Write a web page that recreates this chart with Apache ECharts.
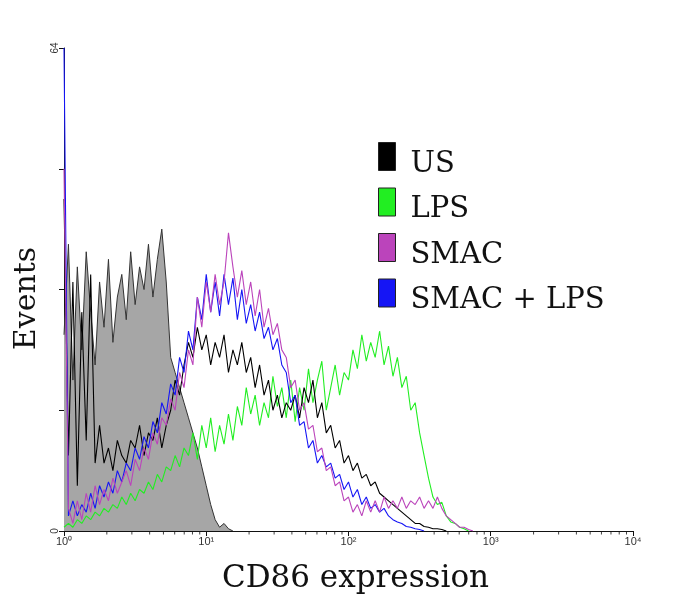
<!DOCTYPE html>
<html>
<head>
<meta charset="utf-8">
<script src="https://cdn.jsdelivr.net/npm/echarts@6/dist/echarts.min.js"></script>
<style>
  html, body { margin: 0; padding: 0; background: #fff; }
  #chart { width: 678px; height: 602px; }
</style>
</head>
<body>
<div id="chart"></div>
<script>
// histogram counts per channel, 32 channels per decade, channel 0 = 10^0
var controlCounts = [26, 38, 20, 35, 24, 37, 29, 22, 33, 27, 36, 25, 31, 34, 28, 37, 30, 35, 32, 38,
    31, 36, 40, 33, 23, 21, 19, 17, 15, 13, 11, 8.5, 6, 3.5, 1.5, 0.5, 1, 0.3, 0]
var usCounts = [44, 10, 33, 6, 29, 12, 34, 9, 14, 9, 11, 8, 12, 10, 9, 12, 11, 14, 10, 13,
    12, 15, 11, 14, 16, 20, 18, 22, 25, 23, 27, 24, 26, 22, 25, 23, 26, 21, 24, 22,
    25, 21, 23, 19, 22, 18, 20, 16, 18, 15, 17, 16, 18, 15, 19, 17, 20, 15, 17, 13,
    14, 11, 12, 9, 10, 8, 9, 7, 7.5, 6, 6.5, 5, 4.5, 4, 3.5, 3, 2.5, 2, 1.5, 1,
    1, 0.6, 0.5, 0.3, 0.3, 0.2, 0]
var lpsCounts = [0.5, 1, 0.5, 1.5, 1, 2, 1.5, 2.5, 2, 3, 2.5, 3.5, 3, 4.5, 3.5, 5, 4, 5.5, 5, 6.5,
    5.5, 7.5, 6.5, 8.5, 8, 10, 8.5, 11, 10, 13, 9.5, 14, 11, 15, 10.5, 14, 11.5, 15.5, 12, 16.5,
    14, 19, 15.5, 18, 14, 17, 15, 20.5, 16.5, 19, 15, 20, 14.5, 19, 16, 21.5, 17, 20, 22.5, 16,
    19, 22, 18, 21, 20, 24, 21.5, 26, 22.5, 25, 23, 26.5, 22, 24.5, 20.5, 23, 19, 20.5, 16, 17,
    13, 10, 7, 4.5, 3.5, 3.8, 2, 1.2, 1, 0.5, 0.3, 0]
var smacCounts = [48, 3, 1, 4, 1.5, 5, 2.5, 6, 3.5, 5.5, 4, 7, 5, 6.5, 8, 6, 9.5, 8, 11, 9.5,
    13, 11.5, 15, 14, 17.5, 16, 21, 19, 24, 22, 31, 27, 33, 29, 34, 30, 33, 39.5, 35, 31,
    34.5, 30, 33, 28.5, 32, 27, 29.5, 26, 27.5, 24, 23, 19, 20, 16, 17, 13.5, 14, 10.5, 11, 8,
    8.5, 6, 6.5, 4, 4.5, 2.5, 3.5, 2, 4, 2.5, 4, 2.5, 4.5, 3, 4, 3, 4.5, 3, 4, 3.5,
    4.5, 3, 4, 3, 4.5, 3, 2, 1.5, 1, 0.5, 0.5, 0.2, 0]
var smacLpsCounts = [64, 2, 4, 2, 3.5, 2.5, 5, 3, 6, 4.5, 6.5, 5, 8, 6.5, 9, 8, 11, 9.5, 12.5, 11,
    14.5, 13, 17, 15.5, 19.5, 18, 23, 21, 26.5, 24, 31, 28, 34, 29, 33, 28.5, 34, 30, 33.5, 28,
    32, 27.5, 30, 26.5, 29, 25.5, 27, 24, 25.5, 22, 21, 17, 18, 14, 14.5, 11, 12, 9, 10, 8.5,
    9, 7, 7.5, 5.5, 6.5, 4.5, 5.5, 3.5, 4.5, 3, 3.5, 2.5, 3, 2, 1.5, 1.2, 1, 0.6, 0.5, 0.3,
    0.2, 0]

var decadeLabels = ['10\u2070', '10\u00b9', '10\u00b2', '10\u00b3', '10\u2074']
var minorMultipliers = [2, 3, 4, 5, 6, 7, 8, 9]
var chPerDecade = 32

function toPairs(counts) {
    let out = []
    for (let i = 0; i < counts.length; i++) {
        out.push([Math.pow(10, i / chPerDecade), counts[i]])
    }
    return out
}

let minorTicks = []
for (let d = 0; d < 4; d++) {
    for (let k = 0; k < minorMultipliers.length; k++) {
        minorTicks.push([minorMultipliers[k] * Math.pow(10, d), 0])
    }
}

function histLine(name, counts, color, z) {
    return {
        name: name,
        type: 'line',
        data: toPairs(counts),
        showSymbol: false,
        symbol: 'none',
        z: z,
        color: color,
        lineStyle: { color: color, width: 1.1 },
        animation: false
    }
}

let myChart = echarts.init(document.getElementById('chart'));
let option = {
    backgroundColor: '#fff',
    animation: false,
    grid: { left: 64, right: 45, top: 48, bottom: 71 },
    legend: {
        orient: 'vertical',
        left: 373,
        top: 137,
        icon: 'rect',
        itemWidth: 17,
        itemHeight: 28,
        itemGap: 9,
        data: ['US', 'LPS', 'SMAC', 'SMAC + LPS'],
        itemStyle: { borderColor: '#222', borderWidth: 1 },
        formatter: '{t|{name}}',
        textStyle: {
            fontFamily: 'DejaVu Serif',
            fontSize: 29,
            color: '#111',
            rich: {
                t: {
                    fontFamily: 'DejaVu Serif',
                    fontSize: 29,
                    color: '#111',
                    lineHeight: 44,
                    verticalAlign: 'bottom',
                    padding: [0, 0, 0, 10]
                }
            }
        }
    },
    xAxis: {
        type: 'log',
        logBase: 10,
        min: 1,
        max: 10000,
        splitNumber: 4,
        name: 'CD86 expression',
        nameLocation: 'middle',
        nameGap: 32,
        nameTextStyle: { fontFamily: 'DejaVu Serif', fontSize: 31, color: '#111', padding: [0, 0, 0, 14] },
        axisLine: { lineStyle: { color: '#111', width: 1 } },
        axisTick: { length: 5, lineStyle: { color: '#111' } },
        axisLabel: {
            fontSize: 11,
            color: '#333',
            margin: 5,
            fontFamily: 'Liberation Sans',
            formatter: function (v) {
                return decadeLabels[Math.round(Math.log10(v))]
            }
        },
        splitLine: { show: false }
    },
    yAxis: {
        type: 'value',
        min: 0,
        max: 64,
        interval: 16,
        name: 'Events',
        nameLocation: 'middle',
        nameGap: 12,
        nameRotate: 90,
        nameTextStyle: { fontFamily: 'DejaVu Serif', fontSize: 30, color: '#111', padding: [0, 18, 0, 0] },
        axisLine: { show: true, lineStyle: { color: '#111', width: 1 } },
        axisTick: { show: true, length: 5, lineStyle: { color: '#111' } },
        axisLabel: {
            rotate: 90,
            fontSize: 10,
            color: '#333',
            margin: 4,
            fontFamily: 'Liberation Sans',
            formatter: function (v) {
                return (v === 0 || v === 64) ? String(v) : ''
            }
        },
        splitLine: { show: false }
    },
    series: [
        {
            name: 'Control',
            type: 'line',
            data: toPairs(controlCounts),
            showSymbol: false,
            symbol: 'none',
            z: 1,
            lineStyle: { color: '#333', width: 1 },
            areaStyle: { color: '#a6a6a6', opacity: 1 },
            animation: false
        },
        histLine('LPS', lpsCounts, '#22ee22', 2),
        histLine('US', usCounts, '#000000', 3),
        histLine('SMAC + LPS', smacLpsCounts, '#1515f5', 4),
        histLine('SMAC', smacCounts, '#bb44bb', 5),
        {
            name: 'minorTicks',
            type: 'scatter',
            data: minorTicks,
            symbol: 'rect',
            symbolSize: [1, 3],
            symbolOffset: [0, 2],
            clip: false,
            silent: true,
            itemStyle: { color: '#111' },
            z: 6,
            animation: false
        }
    ]
};

myChart.setOption(option)
</script>
</body>
</html>
